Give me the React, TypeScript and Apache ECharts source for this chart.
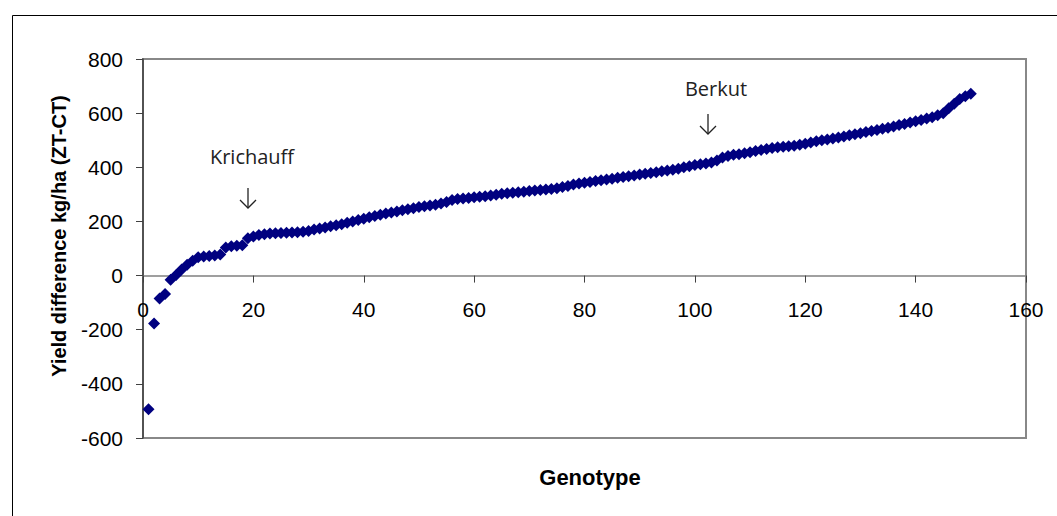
import React, { useEffect, useRef } from "react";
import * as echarts from "echarts";

// Yield difference (ZT - CT), genotypes ranked from lowest to highest
const yieldDiff: number[] = [
  -494, -177, -85, -68, -15, 2, 22, 40, 55, 68,
  70, 72, 74, 78, 104, 108, 110, 112, 138, 144,
  150, 153, 155, 156, 157, 158, 159, 160, 162, 165,
  170, 174, 178, 182, 186, 190, 195, 200, 205, 210,
  215, 220, 225, 229, 233, 237, 241, 245, 249, 253,
  256, 259, 262, 266, 272, 279, 283, 285, 287, 289,
  291, 293, 296, 299, 302, 304, 306, 308, 310, 312,
  314, 316, 318, 320, 323, 327, 331, 336, 340, 343,
  346, 349, 352, 355, 358, 361, 364, 367, 370, 373,
  376, 379, 382, 385, 388, 391, 395, 400, 404, 408,
  411, 414, 418, 425, 436, 442, 446, 448, 452, 456,
  460, 464, 468, 471, 474, 476, 478, 480, 483, 487,
  492, 496, 500, 503, 506, 510, 514, 518, 522, 526,
  530, 534, 538, 542, 546, 551, 556, 560, 565, 570,
  575, 580, 585, 592, 600, 618, 635, 652, 662, 672,
];

const xTicks = { min: 0, max: 160, interval: 20 };
const yTicks = { min: -600, max: 800, interval: 200 };

const annotations = [
  { label: "Krichauff", tx: 252, ty: 156, ax: 248, ay1: 188, ay2: 208 },
  { label: "Berkut", tx: 716, ty: 88, ax: 708, ay1: 114, ay2: 134 },
];

const GRID = { left: 143, right: 31, top: 59, bottom: 78 };
const H = 516;

export default function App() {
  const ref = useRef<HTMLDivElement>(null);

  useEffect(() => {
    if (!ref.current) return;
    const chart = echarts.init(ref.current, undefined, { renderer: "svg" });

    const points = yieldDiff.map((v, i) => [i + 1, v]);
    const gridH = H - GRID.top - GRID.bottom;
    const zeroOffset = -((0 - yTicks.min) / (yTicks.max - yTicks.min)) * gridH;

    const graphics: any[] = [
      {
        type: "rect",
        shape: { x: 12.5, y: 15.5, width: 1100, height: 600 },
        style: { fill: "none", stroke: "#000", lineWidth: 1 },
        silent: true,
      },
      {
        type: "text",
        x: 59,
        y: 236,
        rotation: Math.PI / 2,
        style: {
          x: 0,
          y: 0,
          text: "Yield difference kg/ha (ZT-CT)",
          font: "bold 20px Arial, 'Liberation Sans', sans-serif",
          fill: "#000",
          align: "center",
          verticalAlign: "middle",
          textAlign: "center",
          textVerticalAlign: "middle",
        },
      },
      {
        type: "text",
        x: 590,
        y: 477,
        style: {
          x: 0,
          y: 0,
          text: "Genotype",
          font: "bold 22px Arial, 'Liberation Sans', sans-serif",
          fill: "#000",
          align: "center",
          verticalAlign: "middle",
          textAlign: "center",
          textVerticalAlign: "middle",
        },
      },
    ];

    annotations.forEach((a) => {
      graphics.push({
        type: "text",
        x: a.tx,
        y: a.ty,
        style: {
          x: 0,
          y: 0,
          text: a.label,
          font: "20px 'Open Sans', 'Noto Sans', sans-serif",
          fill: "#222",
          align: "center",
          verticalAlign: "middle",
          textAlign: "center",
          textVerticalAlign: "middle",
        },
      });
      graphics.push({
        type: "line",
        shape: { x1: a.ax, y1: a.ay1, x2: a.ax, y2: a.ay2 },
        style: { stroke: "#222", lineWidth: 1.3 },
      });
      graphics.push({
        type: "polyline",
        shape: {
          points: [
            [a.ax - 8, a.ay2 - 8],
            [a.ax, a.ay2],
            [a.ax + 8, a.ay2 - 8],
          ],
        },
        style: { stroke: "#222", lineWidth: 1.3, fill: "none" },
      });
    });

    chart.setOption({
      animation: false,
      backgroundColor: "#fff",
      grid: {
        ...GRID,
        show: true,
        borderColor: "#888",
        borderWidth: 2,
        backgroundColor: "transparent",
      },
      xAxis: {
        type: "value",
        position: "bottom",
        offset: zeroOffset,
        min: xTicks.min,
        max: xTicks.max,
        interval: xTicks.interval,
        axisLine: { show: true, onZero: false, lineStyle: { color: "#808080", width: 1.5 } },
        axisTick: { show: true, inside: false, length: 7, lineStyle: { color: "#404040" } },
        axisLabel: {
          margin: 23,
          fontSize: 21,
          color: "#000",
          fontFamily: "Arial, 'Liberation Sans', sans-serif",
        },
        splitLine: { show: false },
      },
      yAxis: {
        type: "value",
        min: yTicks.min,
        max: yTicks.max,
        interval: yTicks.interval,
        axisLine: { show: true, onZero: false, lineStyle: { color: "#404040", width: 1.5 } },
        axisTick: { show: true, inside: false, length: 7, lineStyle: { color: "#404040" } },
        axisLabel: {
          margin: 20,
          fontSize: 21,
          color: "#000",
          fontFamily: "Arial, 'Liberation Sans', sans-serif",
        },
        splitLine: { show: false },
      },
      series: [
        {
          type: "scatter",
          data: points,
          symbol: "diamond",
          symbolSize: 12,
          itemStyle: { color: "#000080", opacity: 1 },
          z: 3,
        },
      ],
      graphic: graphics,
    });

    return () => chart.dispose();
  }, []);

  return (
    <div
      ref={ref}
      style={{ position: "fixed", left: 0, top: 0, width: 1057, height: 516 }}
    />
  );
}
